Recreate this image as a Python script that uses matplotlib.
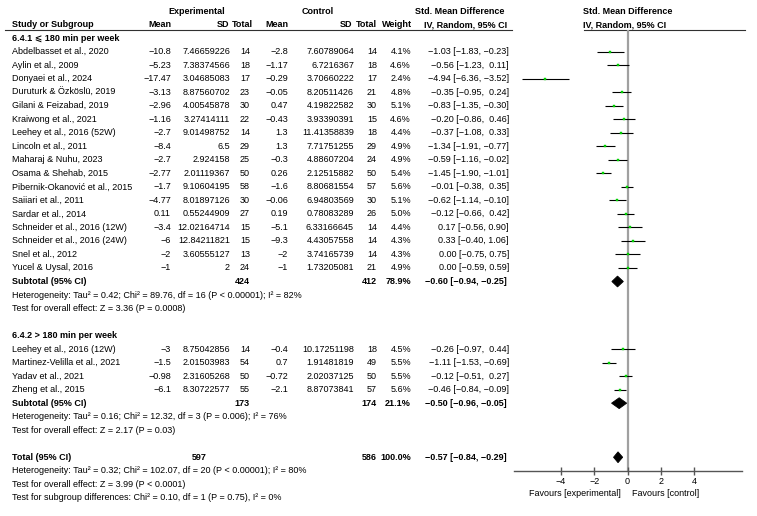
import matplotlib
matplotlib.use('Agg')
import matplotlib.pyplot as plt
from matplotlib.patches import Polygon

FS = 6.5
plt.rcParams['font.family'] = ['Liberation Sans', 'DejaVu Sans']
plt.rcParams['font.size'] = FS

# ---------------- data ----------------
studies1 = ["Abdelbasset et al., 2020", "Aylin et al., 2009", "Donyaei et al., 2024",
            "Duruturk & Özköslü, 2019", "Gilani & Feizabad, 2019", "Kraiwong et al., 2021",
            "Leehey et al., 2016 (52W)", "Lincoln et al., 2011", "Maharaj & Nuhu, 2023",
            "Osama & Shehab, 2015", "Pibernik-Okanović et al., 2015", "Saiiari et al., 2011",
            "Sardar et al., 2014", "Schneider et al., 2016 (12W)", "Schneider et al., 2016 (24W)",
            "Snel et al., 2012", "Yucel & Uysal, 2016"]
exp_mean1 = [-10.8, -5.23, -17.47, -3.13, -2.96, -1.16, -2.7, -8.4, -2.7, -2.77, -1.7, -4.77, 0.11, -3.4, -6, -2, -1]
exp_sd1 = [7.46659226, 7.38374566, 3.04685083, 8.87560702, 4.00545878, 3.27414111, 9.01498752, 6.5,
           2.924158, 2.01119367, 9.10604195, 8.01897126, 0.55244909, 12.02164714, 12.84211821, 3.60555127, 2]
exp_n1 = [14, 18, 17, 23, 30, 22, 14, 29, 25, 50, 58, 30, 27, 15, 15, 13, 24]
ctl_mean1 = [-2.8, -1.17, -0.29, -0.05, 0.47, -0.43, 1.3, 1.3, -0.3, 0.26, -1.6, -0.06, 0.19, -5.1, -9.3, -2, -1]
ctl_sd1 = [7.60789064, 6.7216367, 3.70660222, 8.20511426, 4.19822582, 3.93390391, 11.41358839, 7.71751255,
           4.88607204, 2.12515882, 8.80681554, 6.94803569, 0.78083289, 6.33166645, 4.43057558, 3.74165739, 1.73205081]
ctl_n1 = [14, 18, 17, 21, 30, 15, 18, 29, 24, 50, 57, 30, 26, 14, 14, 14, 21]
weight1 = [4.1, 4.6, 2.4, 4.8, 5.1, 4.6, 4.4, 4.9, 4.9, 5.4, 5.6, 5.1, 5.0, 4.4, 4.3, 4.3, 4.9]
smd1 = [-1.03, -0.56, -4.94, -0.35, -0.83, -0.20, -0.37, -1.34, -0.59, -1.45, -0.01, -0.62, -0.12, 0.17, 0.33, 0.00, 0.00]
lo1 = [-1.83, -1.23, -6.36, -0.95, -1.35, -0.86, -1.08, -1.91, -1.16, -1.90, -0.38, -1.14, -0.66, -0.56, -0.40, -0.75, -0.59]
hi1 = [-0.23, 0.11, -3.52, 0.24, -0.30, 0.46, 0.33, -0.77, -0.02, -1.01, 0.35, -0.10, 0.42, 0.90, 1.06, 0.75, 0.59]
sub1 = dict(n_e=424, n_c=412, w=78.9, est=-0.60, lo=-0.94, hi=-0.25)

studies2 = ["Leehey et al., 2016 (12W)", "Martinez-Velilla et al., 2021", "Yadav et al., 2021", "Zheng et al., 2015"]
exp_mean2 = [-3, -1.5, -0.98, -6.1]
exp_sd2 = [8.75042856, 2.01503983, 2.31605268, 8.30722577]
exp_n2 = [14, 54, 50, 55]
ctl_mean2 = [-0.4, 0.7, -0.72, -2.1]
ctl_sd2 = [10.17251198, 1.91481819, 2.02037125, 8.87073841]
ctl_n2 = [18, 49, 50, 57]
weight2 = [4.5, 5.5, 5.5, 5.6]
smd2 = [-0.26, -1.11, -0.12, -0.46]
lo2 = [-0.97, -1.53, -0.51, -0.84]
hi2 = [0.44, -0.69, 0.27, -0.09]
sub2 = dict(n_e=173, n_c=174, w=21.1, est=-0.50, lo=-0.96, hi=-0.05)

total = dict(n_e=597, n_c=586, w=100.0, est=-0.57, lo=-0.84, hi=-0.29)

group_titles = ["6.4.1 \u2a7d 180 min per week", "6.4.2 > 180 min per week"]
het_texts = ["Heterogeneity: Tau\u00b2 = 0.42; Chi\u00b2 = 89.76, df = 16 (P < 0.00001); I\u00b2 = 82%",
             "Heterogeneity: Tau\u00b2 = 0.16; Chi\u00b2 = 12.32, df = 3 (P = 0.006); I\u00b2 = 76%",
             "Heterogeneity: Tau\u00b2 = 0.32; Chi\u00b2 = 102.07, df = 20 (P < 0.00001); I\u00b2 = 80%"]
test_texts = ["Test for overall effect: Z = 3.36 (P = 0.0008)",
              "Test for overall effect: Z = 2.17 (P = 0.03)",
              "Test for overall effect: Z = 3.99 (P < 0.0001)"]
subgroup_text = "Test for subgroup differences: Chi\u00b2 = 0.10, df = 1 (P = 0.75), I\u00b2 = 0%"
xticks = [-4, -2, 0, 2, 4]
fav_left = "Favours [experimental]"
fav_right = "Favours [control]"

# ---------------- helpers ----------------
MINUS = "\u2212"


def fnum(v):
    s = ("%.8f" % v).rstrip("0").rstrip(".")
    return s.replace("-", MINUS)


def f2(v):
    return ("%.2f" % v).replace("-", MINUS)


def ci_text(e, l, h):
    hs = f2(h)
    if e < 0 and h >= 0:
        hs = " " + hs
    return f"{f2(e)} [{f2(l)}, {hs}]"


# ---------------- layout ----------------
W, H = 757, 516
fig = plt.figure(figsize=(W / 100, H / 100), dpi=100)
y0, pitch = 11.1, 13.52
ylim = ((H - y0) / pitch, -y0 / pitch)

tab = fig.add_axes([0, 0, 1, 1])
tab.set_xlim(0, W)
tab.set_ylim(*ylim)
tab.axis('off')

X_NAME, X_EM, X_ESD, X_EN, X_CM, X_CSD, X_CN, X_W, X_CI = 12, 171, 230, 250, 288, 354, 377, 411, 509

# headers
tab.text(197, 0, "Experimental", ha='center', va='center', fontweight='bold')
tab.text(318, 0, "Control", ha='center', va='center', fontweight='bold')
tab.text(460, 0, "Std. Mean Difference", ha='center', va='center', fontweight='bold')
for x, s, ha in [(X_NAME, "Study or Subgroup", 'left'), (X_EM, "Mean", 'right'), (X_ESD - 1, "SD", 'right'),
                 (X_EN + 3, "Total", 'right'), (X_CM, "Mean", 'right'), (X_CSD - 2, "SD", 'right'),
                 (X_CN, "Total", 'right'), (X_W + 1, "Weight", 'right'), (466, "IV, Random, 95% CI", 'center')]:
    tab.text(x, 1, s, ha=ha, va='center', fontweight='bold')
hdr_y = (30 - y0) / pitch
tab.plot([5, 512], [hdr_y, hdr_y], color='#303030', lw=0.8)
tab.plot([584, 745], [hdr_y, hdr_y], color='#303030', lw=0.8)


def study_row(r, name, em, esd, en, cm, csd, cn, w, e, l, h):
    tab.text(X_NAME, r, name, ha='left', va='center')
    for x, s in [(X_EM, fnum(em)), (X_ESD, fnum(esd)), (X_EN, str(en)), (X_CM, fnum(cm)),
                 (X_CSD, fnum(csd)), (X_CN, str(cn)), (X_W, f"{w:.1f}%"), (X_CI, ci_text(e, l, h))]:
        tab.text(x, r, s, ha='right', va='center')


def summary_row(r, label, d, xn_e=X_EN):
    kw = dict(va='center', fontweight='bold')
    tab.text(X_NAME, r, label, ha='left', **kw)
    tab.text(xn_e, r, str(d['n_e']), ha='right', **kw)
    tab.text(X_CN, r, str(d['n_c']), ha='right', **kw)
    tab.text(X_W, r, f"{d['w']:.1f}%", ha='right', **kw)
    tab.text(X_CI - 2, r, ci_text(d['est'], d['lo'], d['hi']), ha='right', **kw)


groups = [
    (studies1, exp_mean1, exp_sd1, exp_n1, ctl_mean1, ctl_sd1, ctl_n1, weight1, smd1, lo1, hi1, sub1),
    (studies2, exp_mean2, exp_sd2, exp_n2, ctl_mean2, ctl_sd2, ctl_n2, weight2, smd2, lo2, hi2, sub2),
]

# forest axes
zero_px = 627.5
upx = 16.625
left_px, right_px = 514, 742
xl = ((left_px - zero_px) / upx, (right_px - zero_px) / upx)
fx = fig.add_axes([left_px / W, 0, (right_px - left_px) / W, 1])
fx.set_xlim(*xl)
fx.set_ylim(*ylim)
fx.patch.set_visible(False)
for sp in ['top', 'left', 'right']:
    fx.spines[sp].set_visible(False)
AXIS_ROW = 34
fx.spines['bottom'].set_position(('data', AXIS_ROW))
fx.spines['bottom'].set_color('#555555')
fx.spines['bottom'].set_linewidth(1.0)
fx.set_yticks([])
fx.set_xticks(xticks)
fx.set_xticklabels([f"{t:d}".replace("-", MINUS) for t in xticks])
fx.tick_params(axis='x', direction='inout', length=6, width=1.0, color='#555555', pad=1.5, labelsize=FS)

fx.vlines(0, hdr_y, AXIS_ROW, color='#a0a0a0', lw=1.6, zorder=1)
fx.text(0, 0, "Std. Mean Difference", ha='center', va='center', fontweight='bold')
fx.text(-0.15, 1, "IV, Random, 95% CI", ha='center', va='center', fontweight='bold')
fav_row = (494 - y0) / pitch
fx.text(-0.4, fav_row, fav_left, ha='right', va='center')
fx.text(0.3, fav_row, fav_right, ha='left', va='center')


def diamond(r, d, h=0.4):
    poly = Polygon([(d['lo'], r), (d['est'], r - h), (d['hi'], r), (d['est'], r + h)],
                   closed=True, facecolor='black', edgecolor='black', lw=0.6, zorder=3)
    fx.add_patch(poly)


row = 2
for gi, g in enumerate(groups):
    names, em, esd, en, cm, csd, cn, w, e, l, h, sub = g
    tab.text(X_NAME, row, group_titles[gi], ha='left', va='center', fontweight='bold')
    row += 1
    for i in range(len(names)):
        study_row(row, names[i], em[i], esd[i], en[i], cm[i], csd[i], cn[i], w[i], e[i], l[i], h[i])
        fx.plot([l[i], h[i]], [row, row], color='black', lw=0.8, zorder=2, solid_capstyle='butt')
        fx.plot([e[i]], [row], marker='s', ms=2.0, color='#00d000', mec='#00d000', mew=0.3, zorder=4)
        row += 1
    summary_row(row, "Subtotal (95% CI)", sub)
    diamond(row, sub)
    row += 1
    tab.text(X_NAME, row, het_texts[gi], ha='left', va='center')
    row += 1
    tab.text(X_NAME, row, test_texts[gi], ha='left', va='center')
    row += 2

summary_row(row, "Total (95% CI)", total, xn_e=207)
diamond(row, total)
row += 1
tab.text(X_NAME, row, het_texts[2], ha='left', va='center')
row += 1
tab.text(X_NAME, row, test_texts[2], ha='left', va='center')
row += 1
tab.text(X_NAME, row, subgroup_text, ha='left', va='center')

fig.savefig("out.png", dpi=100)
